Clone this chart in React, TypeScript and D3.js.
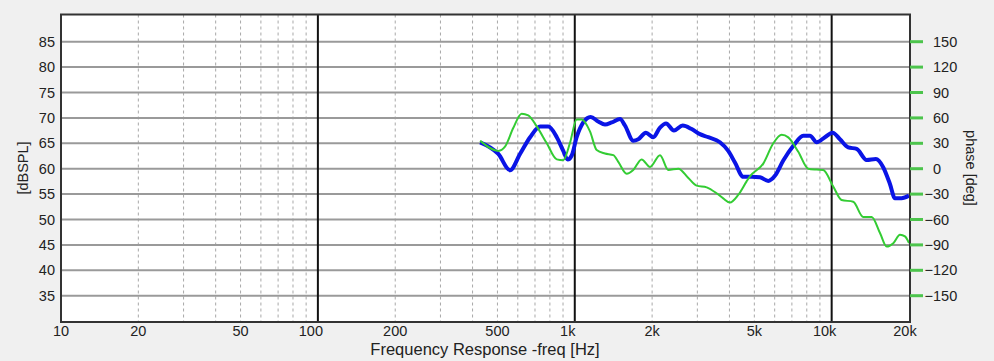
import { useEffect, useRef } from 'react';
import * as d3 from 'd3';

// frequency response (dB SPL)
const splFreq = [428, 504, 560, 612, 670, 733, 789, 851, 902, 938, 973, 1017, 1079, 1153, 1234, 1311, 1392, 1500, 1568, 1689, 1767, 1892, 2021, 2147, 2266, 2433, 2630, 2851, 3070, 3308, 3674, 3957, 4203, 4529, 4883, 5260, 5666, 6012, 6480, 7093, 7749, 8228, 8742, 9415, 10090, 10770, 11600, 12510, 13680, 14870, 15870, 16860, 17630, 18710, 20000];
const splValues = [65.2, 62.9, 59.7, 62.9, 66.2, 68.3, 68.3, 66.2, 63.5, 61.8, 62.6, 66.2, 69.1, 70.2, 69.3, 68.7, 69.1, 69.8, 68.5, 65.5, 65.8, 67.1, 66.2, 68.1, 68.9, 67.5, 68.5, 67.8, 66.8, 66.2, 65.2, 63.5, 61.2, 58.4, 58.4, 58.3, 57.6, 58.6, 61.6, 64.5, 66.5, 66.5, 65.2, 66.2, 67.1, 65.8, 64.2, 63.9, 61.7, 61.9, 60.3, 57.0, 54.2, 54.2, 54.7];

// phase (deg)
const phaseFreq = [428, 504, 535, 576, 621, 659, 711, 778, 851, 902, 957, 1017, 1064, 1146, 1217, 1311, 1413, 1477, 1592, 1689, 1820, 1963, 2147, 2313, 2530, 2767, 2982, 3262, 3566, 3783, 4017, 4327, 4665, 4808, 5418, 5926, 6389, 6776, 7413, 8107, 8742, 9270, 10140, 10930, 12130, 13270, 14310, 15420, 16370, 17380, 18450, 19290, 20000];
const phaseValues = [33, 21, 26, 48, 65, 63, 50, 30, 11, 10, 30, 58, 58, 44, 22, 18, 16, 8, -6, -1.5, 11, 2, 16, -1.5, 0, -11, -20, -22, -29, -35, -40, -31, -15, -9, 6, 30, 40, 37, 20, 0, -1, -1.5, -21, -37, -39, -57, -57, -76, -92, -88, -78, -80, -88];

const xTicks = [10, 20, 50, 100, 200, 500, 1000, 2000, 5000, 10000, 20000];
const xTickLabels = ['10', '20', '50', '100', '200', '500', '1k', '2k', '5k', '10k', '20k'];
const majorLines = [100, 1000, 10000];
const minorLines = [20, 30, 40, 50, 60, 70, 80, 90, 200, 300, 400, 500, 600, 700, 800, 900, 2000, 3000, 4000, 5000, 6000, 7000, 8000, 9000];
const dbTicks = [35, 40, 45, 50, 55, 60, 65, 70, 75, 80, 85];
const phaseTicks = [150, 120, 90, 60, 30, 0, -30, -60, -90, -120, -150];

export default function App() {
    const svgRef = useRef<SVGSVGElement>(null);

    useEffect(() => {
        const svg = d3.select(svgRef.current);
        svg.selectAll('*').remove();

        const left = 61, right = 910, top = 14.5, bottom = 322;
        const font = '"Liberation Sans", Arial, sans-serif';
        const fs = 14.5;

        const x = d3.scaleLog().domain([10, 20000]).range([left, 909]);
        const y = d3.scaleLinear().domain([35, 85]).range([295.7, 41.7]);
        const yp = d3.scaleLinear().domain([-150, 150]).range([295.7, 41.7]);

        svg.append('rect').attr('width', 994).attr('height', 361).attr('fill', '#f0f0f0');
        svg.append('rect')
            .attr('x', left).attr('y', top)
            .attr('width', right - left).attr('height', bottom - top)
            .attr('fill', '#fff');

        // grid
        svg.append('g').selectAll('line')
            .data(minorLines).enter().append('line')
            .attr('x1', d => x(d)).attr('x2', d => x(d))
            .attr('y1', top).attr('y2', bottom)
            .attr('stroke', '#a8a8a8').attr('stroke-width', 1)
            .attr('stroke-dasharray', '3,3');

        svg.append('g').selectAll('line')
            .data(dbTicks).enter().append('line')
            .attr('x1', left).attr('x2', right)
            .attr('y1', d => y(d)).attr('y2', d => y(d))
            .attr('stroke', '#9a9a9a').attr('stroke-width', 2);

        svg.append('g').selectAll('line')
            .data(majorLines).enter().append('line')
            .attr('x1', d => x(d)).attr('x2', d => x(d))
            .attr('y1', top).attr('y2', bottom)
            .attr('stroke', '#111').attr('stroke-width', 2);

        // curves
        const splLine = d3.line<number>()
            .x((_, i) => x(splFreq[i]))
            .y(d => y(d))
            .curve(d3.curveMonotoneX);
        const phaseLine = d3.line<number>()
            .x((_, i) => x(phaseFreq[i]))
            .y(d => yp(d))
            .curve(d3.curveMonotoneX);

        svg.append('path').datum(splValues)
            .attr('d', splLine)
            .attr('fill', 'none').attr('stroke', '#0a14e6')
            .attr('stroke-width', 4).attr('stroke-linejoin', 'round');

        svg.append('path').datum(phaseValues)
            .attr('d', phaseLine)
            .attr('fill', 'none').attr('stroke', '#33cc33')
            .attr('stroke-width', 2).attr('stroke-linejoin', 'round');

        // frame
        svg.append('rect')
            .attr('x', left).attr('y', top)
            .attr('width', right - left).attr('height', bottom - top)
            .attr('fill', 'none').attr('stroke', '#333').attr('stroke-width', 2);

        // left axis
        svg.append('g').selectAll('text')
            .data(dbTicks).enter().append('text')
            .attr('x', 55).attr('y', d => y(d))
            .attr('dy', '0.35em').attr('text-anchor', 'end')
            .attr('font-family', font).attr('font-size', fs).attr('fill', '#222')
            .text(d => d);

        svg.append('text')
            .attr('transform', 'translate(28,168) rotate(-90)')
            .attr('text-anchor', 'middle')
            .attr('font-family', font).attr('font-size', fs).attr('fill', '#222')
            .text('[dBSPL]');

        // right axis (phase)
        svg.append('g').selectAll('line')
            .data(phaseTicks).enter().append('line')
            .attr('x1', right).attr('x2', 923)
            .attr('y1', d => yp(d)).attr('y2', d => yp(d))
            .attr('stroke', '#4cc44c').attr('stroke-width', 3);

        svg.append('g').selectAll('text')
            .data(phaseTicks).enter().append('text')
            .attr('x', 933).attr('y', d => yp(d))
            .attr('dy', '0.35em')
            .attr('font-family', font).attr('font-size', fs).attr('fill', '#222')
            .text(d => Math.abs(d));

        svg.append('g').selectAll('text')
            .data(phaseTicks.filter(d => d < 0)).enter().append('text')
            .attr('x', 933).attr('y', d => yp(d))
            .attr('dy', '0.35em').attr('text-anchor', 'end')
            .attr('font-family', font).attr('font-size', fs).attr('fill', '#222')
            .text('\u2212');

        svg.append('text')
            .attr('transform', 'translate(966,168) rotate(90)')
            .attr('text-anchor', 'middle')
            .attr('font-family', font).attr('font-size', fs).attr('fill', '#222')
            .text('phase [deg]');

        // bottom axis
        svg.append('g').selectAll('text')
            .data(xTicks).enter().append('text')
            .attr('x', d => x(d) + (majorLines.includes(d) ? -7 : d === 20000 ? -4 : 0))
            .attr('y', 336)
            .attr('text-anchor', 'middle')
            .attr('font-family', font).attr('font-size', fs).attr('fill', '#222')
            .text((_, i) => xTickLabels[i]);

        svg.append('text')
            .attr('x', 485).attr('y', 355)
            .attr('text-anchor', 'middle')
            .attr('font-family', font).attr('font-size', 16.5).attr('fill', '#222')
            .text('Frequency Response -freq [Hz]');
    }, []);

    return (
        <svg ref={svgRef} width={994} height={361}
            style={{ position: 'absolute', left: 0, top: 0 }} />
    );
}
